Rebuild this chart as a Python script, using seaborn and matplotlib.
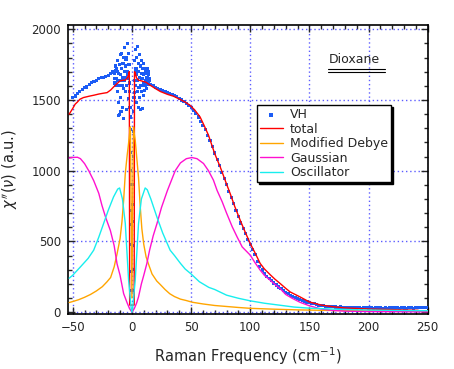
import seaborn as sns
import matplotlib.pyplot as plt
from matplotlib.ticker import MultipleLocator
import pandas as pd

sns.set_style("ticks")
plt.rcParams["font.family"] = ["DejaVu Sans"]

# ---- VH data (blue points) ----
vh_left_x = [-50, -48, -46, -44, -42, -40, -38, -36, -34, -32, -30, -28, -26, -24, -22, -20, -18, -16]
vh_left_y = [1520, 1528, 1545, 1560, 1575, 1588, 1592, 1610, 1622, 1630, 1638, 1652, 1660, 1662, 1668, 1675, 1690, 1698]

vh_cl_x = [-15, -14.75, -14.5, -14.25, -14, -13.75, -13.5, -13.25, -13, -12.75, -12.5, -12.25, -12, -11.75,
           -11.5, -11.25, -11, -10.75, -10.5, -10.25, -10, -9.75, -9.5, -9.25, -9, -8.75, -8.5, -8.25, -8,
           -7.75, -7.5, -7.25, -7, -6.75, -6.5, -6.25, -6, -5.75, -5.5, -5.25, -5, -4.75, -4.5, -4.25, -4,
           -3.75, -3.5, -3.25, -3, -2.75, -2.5, -2.25, -2]
vh_cl_y = [1700, 1690, 1655, 1620, 1740, 1705, 1600, 1650, 1720, 1600, 1560, 1700, 1780, 1640,
           1480, 1390, 1690, 1750, 1400, 1600, 1820, 1680, 1520, 1420, 1640, 1720, 1830, 1600, 1450,
           1660, 1760, 1800, 1370, 1580, 1700, 1640, 1870, 1740, 1560, 1660, 1790, 1600, 1430, 1800, 1680,
           1700, 1900, 1650, 1510, 1830, 1750, 1560, 1620]

vh_c0_x = [-1.8, -1.6, -1.4, -1.2, -1.0, -0.9, -0.8, -0.7, -0.6, -0.5, -0.4, -0.3,
           0.3, 0.4, 0.5, 0.6, 0.7, 0.8, 1.0, 1.2, 1.5, 1.8]
vh_c0_y = [1560, 1450, 1380, 1290, 1130, 1000, 900, 720, 620, 480, 290, 150,
           150, 300, 470, 640, 760, 900, 1100, 1280, 1420, 1520]

vh_cr_x = [2, 2.25, 2.5, 2.75, 3, 3.25, 3.5, 3.75, 4, 4.25, 4.5, 4.75, 5, 5.25, 5.5, 5.75, 6, 6.25,
           6.5, 6.75, 7, 7.25, 7.5, 7.75, 8, 8.25, 8.5, 8.75, 9, 9.25, 9.5, 9.75, 10, 10.25, 10.5,
           10.75, 11, 11.25, 11.5, 11.75, 12, 12.25, 12.5, 12.75, 13, 13.25, 13.5, 13.75, 14, 14.25,
           14.5, 14.75, 15]
vh_cr_y = [1640, 1780, 1550, 1700, 1860, 1600, 1720, 1480, 1680, 1800, 1880, 1560, 1640, 1760, 1450,
           1700, 1590, 1820, 1660, 1520, 1740, 1600, 1430, 1690, 1780, 1560, 1650, 1440, 1720, 1600,
           1680, 1530, 1760, 1620, 1690, 1570, 1720, 1640, 1600, 1700, 1660, 1580, 1690, 1640, 1720,
           1610, 1660, 1700, 1630, 1680, 1640, 1610, 1650]

vh_right_x = [16, 18, 20, 22, 24, 26, 28, 30, 32, 34, 36, 38, 40, 42, 44, 46, 48, 50, 52, 54, 56, 58,
              60, 62, 64, 66, 68, 70, 72, 74, 76, 78, 80, 82, 84, 86, 88, 90, 92, 94, 96, 98, 100,
              102, 104, 106, 108, 110, 112, 114, 116, 118, 120, 122, 124, 126, 128, 130, 132, 134,
              136, 138, 140, 142, 144, 146, 148, 150, 152, 154, 156, 158, 160, 162, 164, 166, 168,
              170, 172, 174, 176, 178, 180, 182, 184, 186, 188, 190, 192, 194, 196, 198, 200, 202,
              204, 206, 208, 210, 212, 214, 216, 218, 220, 222, 224, 226, 228, 230, 232, 234, 236,
              238, 240, 242, 244, 246, 248, 250]
vh_right_y = [1610, 1600, 1590, 1582, 1575, 1566, 1560, 1553, 1546, 1540, 1530, 1522, 1512, 1500, 1490,
              1475, 1460, 1445, 1425, 1405, 1380, 1350, 1320, 1290, 1250, 1215, 1170, 1125, 1080, 1035,
              990, 945, 900, 855, 810, 765, 720, 675, 630, 590, 555, 515, 480, 440, 405, 360, 325, 298,
              275, 255, 238, 222, 206, 192, 178, 165, 152, 140, 130, 120, 112, 104, 96, 90, 84, 78, 72,
              67, 62, 58, 54, 50, 47, 45, 43, 41, 40, 38, 36, 35, 36, 33, 32, 34, 31, 30, 32, 29, 31,
              28, 30, 33, 29, 30, 28, 31, 29, 32, 28, 30, 27, 31, 29, 33, 30, 28, 31, 29, 27, 30, 32,
              28, 33, 30, 35, 31, 33, 32]

# ---- fit curves ----
total_x = [-53, -50, -48, -46, -44, -41, -36, -32, -28, -24, -21, -18, -15.5, -12, -10, -7, -5.5, -4,
           -2.9, -2.2, -1.9, 1.9, 2.2, 2.8, 4, 5.6, 8, 12, 15.5, 20, 24, 30, 35, 41, 45, 49, 53, 57.6,
           61, 64.7, 70, 74.6, 80, 83, 87, 91.5, 95, 100, 104, 108.4, 112, 116.8, 121, 125.2, 130,
           133.7, 142, 150, 160, 170, 180, 200, 220, 242]
total_y = [1400, 1440, 1470, 1486, 1505, 1517, 1527, 1534, 1542, 1548, 1552, 1570, 1592, 1620, 1635,
           1640, 1640, 1655, 1675, 1700, 50, 50, 1700, 1690, 1655, 1640, 1635, 1625, 1604, 1580, 1560,
           1540, 1527, 1503, 1485, 1463, 1430, 1380, 1320, 1251, 1120, 1027, 905, 839, 745, 650, 580,
           485, 420, 344, 305, 265, 232, 203, 168, 143, 108, 72, 50, 38, 30, 22, 18, 13]

debye_x = [-53, -50, -45, -40, -35, -30, -25, -21, -18, -15, -12.6, -10, -8.4, -7, -5.6, -4, -3, -2,
           -1.3, -0.8, 0, 0.8, 1.3, 2, 2.8, 4, 5.6, 7, 8.4, 10, 12, 14, 17, 21, 24, 28, 32, 36, 41, 46,
           51, 60, 70, 80, 90, 100, 120, 140, 160, 180, 200, 225, 250]
debye_y = [68, 75, 88, 105, 125, 150, 180, 215, 245, 320, 410, 520, 640, 790, 980, 1110, 1180, 1260,
           1310, 900, 100, 900, 1310, 1260, 1215, 1100, 950, 750, 590, 480, 390, 340, 270, 220, 195,
           160, 130, 110, 92, 82, 70, 58, 47, 40, 33, 27, 21, 16, 13, 11, 9, 8, 7]

gauss_x = [-53, -50, -46, -43.5, -40, -36.5, -32.3, -28, -25.3, -22, -18.2, -15, -12.6, -10, -7, -4,
           -2, 0, 2, 4, 5.6, 8, 10, 12.6, 15, 18, 21.1, 25, 30, 36.6, 41, 46, 50.7, 55, 60.5, 64.7,
           68.9, 72, 76.3, 80, 84.8, 89, 93.2, 100, 104, 108.4, 112, 116.8, 121, 125.2, 130, 135,
           142, 150, 160, 170, 180, 200, 225, 250]
gauss_y = [1090, 1094, 1095, 1085, 1050, 1000, 930, 840, 754, 665, 577, 470, 343, 260, 131, 65, 25, 0,
           25, 65, 108, 200, 260, 343, 440, 540, 624, 740, 860, 1000, 1055, 1085, 1093, 1085, 1051,
           1000, 933, 860, 780, 700, 603, 530, 461, 403, 350, 297, 260, 226, 195, 167, 125, 100, 70,
           45, 22, 12, 7, 4, 3, 2]

osc_x = [-53, -50, -43.5, -37, -32.3, -28, -23.9, -20, -15.5, -12, -10.4, -8, -5.6, -2.8, -0.6, 0,
         0.6, 2.8, 5.6, 8, 11.2, 13, 16, 21.1, 26, 32.3, 36, 41, 45, 50, 57, 65, 70, 80, 90, 100,
         112, 125, 137, 150, 175, 200, 225, 250]
osc_y = [240, 261, 320, 380, 438, 530, 627, 720, 815, 870, 878, 800, 627, 226, 26, 0,
         26, 226, 627, 800, 878, 865, 800, 673, 560, 438, 400, 345, 305, 270, 215, 175, 160, 120,
         98, 80, 63, 49, 36, 28, 20, 15, 12, 10]

vh = pd.DataFrame({
    "x": vh_left_x + vh_cl_x + vh_c0_x + vh_cr_x + vh_right_x,
    "y": vh_left_y + vh_cl_y + vh_c0_y + vh_cr_y + vh_right_y,
})

fig = plt.figure(figsize=(4.54, 3.69), dpi=100)
ax = fig.add_axes([0.1498, 0.1491, 0.7929, 0.7831])

ax.grid(True, which="major", color="#5c5cff", linestyle=(0, (1, 2)), linewidth=1.0)
ax.set_axisbelow(True)

sns.scatterplot(data=vh, x="x", y="y", ax=ax, marker="s", s=5, color="#1c5cf5",
                edgecolor="none", linewidth=0, label="VH", zorder=3)
sns.lineplot(x=total_x, y=total_y, ax=ax, color="#ff0000", lw=1.0, sort=False,
             estimator=None, label="total", zorder=4)
sns.lineplot(x=debye_x, y=debye_y, ax=ax, color="#ffa500", lw=1.0, sort=False,
             estimator=None, label="Modified Debye", zorder=5)
sns.lineplot(x=gauss_x, y=gauss_y, ax=ax, color="#ff10d0", lw=1.0, sort=False,
             estimator=None, label="Gaussian", zorder=5)
sns.lineplot(x=osc_x, y=osc_y, ax=ax, color="#18eeee", lw=1.0, sort=False,
             estimator=None, label="Oscillator", zorder=5)

ax.set_xlim(-54, 250.2)
ax.set_ylim(-13, 2030)
ax.xaxis.set_major_locator(MultipleLocator(50))
ax.xaxis.set_minor_locator(MultipleLocator(10))
ax.yaxis.set_major_locator(MultipleLocator(500))
ax.yaxis.set_minor_locator(MultipleLocator(100))
ax.tick_params(which="both", direction="in", top=True, right=True, width=1, labelsize=8.5, pad=5)
ax.tick_params(which="major", length=5)
ax.tick_params(which="minor", length=3)
for sp in ax.spines.values():
    sp.set_linewidth(1.2)
    sp.set_color("black")

ax.set_xlabel("Raman Frequency (cm$^{-1}$)", fontsize=10.5, labelpad=8)
ax.set_ylabel(r"$\chi''(\nu)$ (a.u.)", fontsize=10.5, labelpad=8)

leg = ax.legend(loc="upper left", bbox_to_anchor=(0.525, 0.723), borderaxespad=0,
                fontsize=9, handlelength=1.8, labelspacing=0.12, handletextpad=0.6,
                borderpad=0.25, fancybox=False, framealpha=1, edgecolor="black",
                markerscale=1.3, shadow={"color": "black", "alpha": 1, "ox": 1.2, "oy": -1.2})
leg.get_frame().set_linewidth(1.0)

ax.text(0.794, 0.879, "Dioxane", transform=ax.transAxes, ha="center", va="center", fontsize=9)
ax.plot([0.721, 0.881], [0.848, 0.848], transform=ax.transAxes, color="black", lw=0.8)
ax.plot([0.721, 0.881], [0.839, 0.839], transform=ax.transAxes, color="black", lw=0.8)

fig.savefig("out.png", dpi=100)
plt.close(fig)
